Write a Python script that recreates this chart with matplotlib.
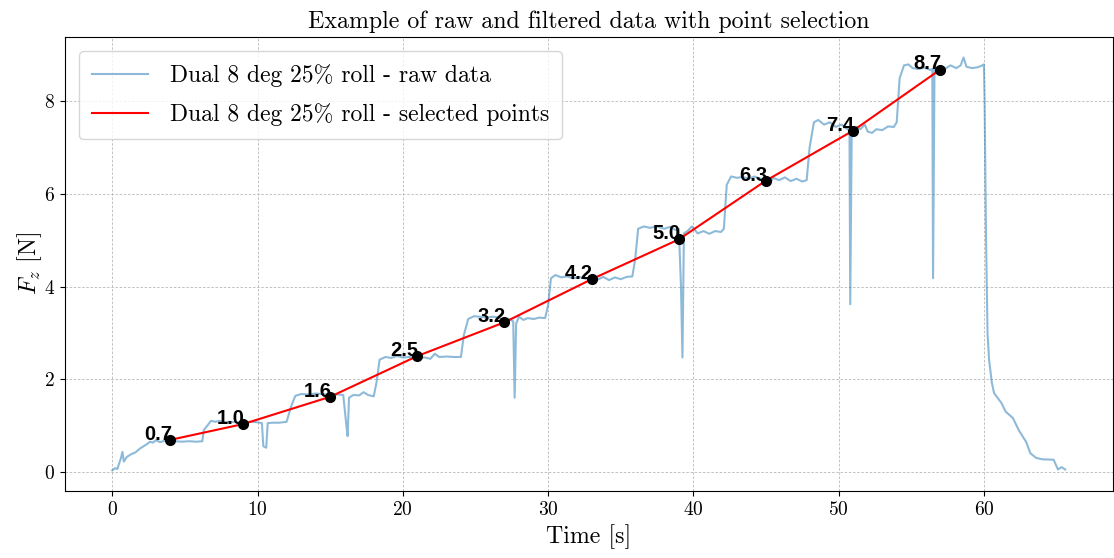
import numpy as np
import matplotlib
matplotlib.use("Agg")
import matplotlib.pyplot as plt

plt.rcParams['font.family'] = 'serif'
plt.rcParams['font.serif'] = ['cmr10', 'DejaVu Serif']
plt.rcParams['mathtext.fontset'] = 'cm'
plt.rcParams['axes.unicode_minus'] = False
plt.rcParams['axes.formatter.use_mathtext'] = True

# raw force signal (time [s], Fz [N])
t_raw = [0.0, 0.2, 0.35, 0.6, 0.7, 0.8, 1.0, 1.3, 1.6, 1.9, 2.2, 2.4, 2.6, 2.8, 3.0, 3.3, 3.6, 3.9,
         4.3, 4.8, 5.3, 5.8, 6.2, 6.3, 6.5, 6.8, 7.1, 7.4, 7.7, 8.0, 8.5, 9.0, 9.5, 10.0, 10.3, 10.4,
         10.6, 10.7, 11.0, 11.5, 12.0, 12.3, 12.6, 13.0, 13.5, 14.0, 14.5, 15.0, 15.5, 15.9, 16.1,
         16.2, 16.3, 16.6, 17.0, 17.3, 17.6, 18.0, 18.2, 18.4, 18.8, 19.2, 19.6, 20.0, 20.5, 21.0,
         21.5, 21.9, 22.2, 22.5, 23.0, 23.5, 24.0, 24.2, 24.5, 24.9, 25.3, 25.8, 26.2, 26.6, 27.0,
         27.3, 27.6, 27.7, 27.8, 28.0, 28.3, 28.6, 29.0, 29.4, 29.8, 30.0, 30.2, 30.5, 30.9, 31.3,
         31.7, 32.2, 32.6, 33.0, 33.4, 33.8, 34.2, 34.6, 35.0, 35.4, 35.8, 36.0, 36.2, 36.6, 37.0,
         37.5, 38.0, 38.4, 38.8, 39.0, 39.15, 39.25, 39.35, 39.6, 39.9, 40.3, 40.7, 41.1, 41.5,
         41.9, 42.1, 42.3, 42.6, 43.0, 43.4, 43.8, 44.2, 44.6, 45.0, 45.2, 45.5, 45.9, 46.3, 46.7,
         47.1, 47.5, 47.8, 48.0, 48.3, 48.6, 49.0, 49.4, 49.8, 50.2, 50.6, 50.75, 50.8, 50.9, 51.2,
         51.5, 51.8, 52.0, 52.3, 52.6, 53.0, 53.4, 53.8, 54.0, 54.2, 54.5, 54.8, 55.1, 55.5, 55.9,
         56.3, 56.45, 56.5, 56.6, 56.9, 57.3, 57.7, 58.1, 58.4, 58.6, 58.8, 59.2, 59.6, 59.9, 60.0,
         60.05, 60.15, 60.25, 60.36, 60.55, 60.7, 61.2, 61.5, 62.0, 62.4, 62.9, 63.2, 63.6, 64.0,
         64.8, 65.1, 65.35, 65.6]
f_raw = [0.03, 0.08, 0.06, 0.30, 0.43, 0.22, 0.32, 0.38, 0.42, 0.50, 0.56, 0.60, 0.65, 0.63, 0.68,
         0.64, 0.67, 0.65, 0.66, 0.65, 0.66, 0.65, 0.66, 0.90, 0.98, 1.10, 1.08, 1.10, 1.07, 1.08,
         1.07, 1.06, 1.08, 1.07, 1.05, 0.55, 0.52, 1.05, 1.06, 1.06, 1.08, 1.40, 1.64, 1.68, 1.67,
         1.69, 1.68, 1.66, 1.67, 1.66, 1.05, 0.77, 1.60, 1.66, 1.65, 1.72, 1.66, 1.63, 1.95, 2.42,
         2.48, 2.46, 2.50, 2.47, 2.48, 2.46, 2.47, 2.44, 2.55, 2.48, 2.49, 2.48, 2.48, 2.95, 3.30,
         3.36, 3.35, 3.33, 3.35, 3.33, 3.25, 3.30, 3.25, 1.60, 3.20, 3.35, 3.28, 3.32, 3.30, 3.33,
         3.32, 3.60, 4.18, 4.25, 4.20, 4.22, 4.18, 4.20, 4.17, 4.20, 4.15, 4.21, 4.14, 4.20, 4.16,
         4.21, 4.22, 4.60, 5.25, 5.30, 5.27, 5.30, 5.25, 5.29, 5.22, 5.25, 4.00, 2.47, 5.15, 5.20,
         5.30, 5.15, 5.20, 5.14, 5.20, 5.18, 5.25, 6.20, 6.38, 6.35, 6.37, 6.33, 6.38, 6.33, 6.30,
         6.20, 6.35, 6.30, 6.36, 6.28, 6.33, 6.27, 6.30, 7.00, 7.55, 7.60, 7.50, 7.55, 7.45, 7.50,
         7.40, 7.38, 3.62, 7.30, 7.45, 7.40, 7.50, 7.35, 7.32, 7.40, 7.38, 7.46, 7.45, 7.55, 8.50,
         8.78, 8.80, 8.72, 8.70, 8.73, 8.68, 8.70, 4.18, 8.70, 8.75, 8.70, 8.78, 8.72, 8.78, 8.95,
         8.75, 8.72, 8.74, 8.78, 8.80, 8.00, 5.00, 3.00, 2.41, 1.92, 1.70, 1.49, 1.30, 1.16, 0.90,
         0.65, 0.40, 0.30, 0.27, 0.26, 0.05, 0.10, 0.05]

# selected points
t_sel = [4.0, 9.0, 15.0, 21.0, 27.0, 33.0, 39.0, 45.0, 51.0, 57.0]
f_sel = [0.69, 1.03, 1.62, 2.50, 3.23, 4.16, 5.02, 6.29, 7.37, 8.69]

fig = plt.figure(figsize=(11.14, 5.58), dpi=100)
ax = fig.add_axes([0.058, 0.120, 0.941, 0.814])

ax.plot(t_raw, f_raw, color='tab:blue', alpha=0.5, linewidth=1.5,
        label='Dual 8 deg 25% roll - raw data')
ax.plot(t_sel, f_sel, color='red', linewidth=1.5,
        label='Dual 8 deg 25% roll - selected points')
ax.plot(t_sel, f_sel, 'o', color='black', markersize=7)

for t, f in zip(t_sel, f_sel):
    ax.annotate(f'{f:.1f}', (t, f), xytext=(1, 4), textcoords='offset points',
                ha='right', va='center', fontsize=14.5, fontweight='bold',
                family='Liberation Sans')

ax.set_title('Example of raw and filtered data with point selection', fontsize=17.2)
ax.set_xlabel('Time [s]', fontsize=17.2)
ax.set_ylabel(r'$F_z$ [N]', fontsize=17.2, labelpad=0)
ax.tick_params(labelsize=14)
ax.grid(True, linestyle=(0, (3, 2)), linewidth=0.6, color='#b8b8b8')
ax.legend(loc='upper left', fontsize=17, handlelength=2.4, handletextpad=0.9,
          labelspacing=0.7, borderaxespad=0.6, borderpad=0.55)

fig.savefig('out.png', dpi=100)
